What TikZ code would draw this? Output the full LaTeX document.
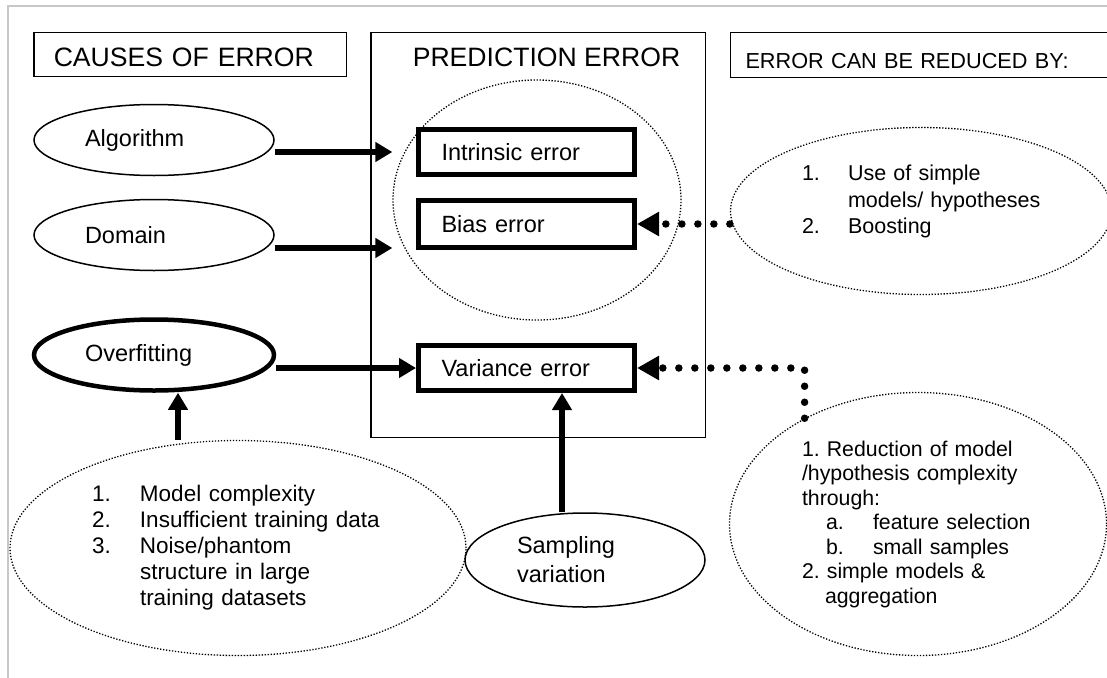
\documentclass[tikz,border=0pt]{standalone}
\usepackage{fontspec}
\setmainfont{Liberation Sans}
\usetikzlibrary{arrows.meta,positioning,shapes.geometric}
\definecolor{edge}{RGB}{200,200,200}
\newcommand{\fsz}[2]{\fontsize{#1}{#2}\selectfont}
\frenchspacing

\begin{document}
\begin{tikzpicture}[
      x=1pt,y=-1pt,
      lbl/.style={font=\fsz{23.5pt}{29pt}},
      headbox/.style={draw,line width=1.5pt,font=\fsz{26.6pt}{32pt},align=left,
                      text height=24pt,text depth=0pt},
      cause/.style={draw,ellipse,line width=1.5pt,minimum width=240pt,minimum height=71pt,
                    text width=138pt,align=left,inner sep=0pt,lbl},
      errbox/.style={draw,fill=white,line width=5pt,minimum height=45pt,text width=170pt,
                     inner xsep=23pt,align=left,lbl},
      dotell/.style={draw,ellipse,line width=1.3pt,dash pattern=on 1.3pt off 1.7pt,inner sep=0pt},
      bigarrow/.style={-{Triangle[length=17pt,width=19pt]},line width=6pt},
      dotarrow/.style={-{Triangle[length=22pt,width=23pt]},line width=7.5pt,line cap=round,
                       dash pattern=on 0pt off 16pt},
    ]
    \useasboundingbox (0,0) rectangle (1107,677);
    \draw[edge,line width=2pt] (8,700) -- (8,6) -- (1120,6);

    % three column heads
    \node[headbox,text width=272.5pt,inner xsep=20pt,minimum height=43.5pt] (causes)
      at (190,54.5) {CAUSES OF ERROR};
    \node[draw,line width=1.5pt,minimum width=334.5pt,minimum height=404.5pt] (predbox)
      at (538,235) {};
    \node[font=\fsz{26.6pt}{32pt},inner sep=0pt,below=16pt of predbox.north,xshift=8.5pt]
      (predtitle) {PREDICTION ERROR};
    \node[headbox,font=\fsz{21.7pt}{26pt},text height=27pt,anchor=west,text width=380pt,
          inner xsep=15pt,minimum height=44.5pt] (reducehead)
      at (729.75,55) {ERROR CAN BE REDUCED BY:};

    % causes
    \node[cause] (alg) at (154,140) {Algorithm};
    \node[cause] (dom) at (154,235) {Domain};
    \node[cause,line width=4.5pt] (over) at (154,355) {Overfitting};
    \node[dotell,minimum width=456pt,minimum height=215pt,text width=292pt,align=left,
          font=\fsz{22.5pt}{26pt}] (causelist) at (238,548)
      {\begin{tabular}{@{}p{48pt}@{}l@{}}
         1. & Model complexity\\
         2. & Insufficient training data\\
         3. & Noise/phantom\\
            & structure in large\\
            & training datasets
       \end{tabular}};
    \node[cause,minimum height=94pt,text width=136pt] (samp) at (585,560)
      {Sampling\\variation};

    % error parts
    \node[dotell,minimum width=288pt,minimum height=240pt] (errcirc) at (537,200) {};
    \node[errbox] (intr) at (526.5,152) {Intrinsic error};
    \node[errbox,minimum height=47pt] (bias) at (526.5,224) {Bias error};
    \node[errbox] (var) at (526.5,368) {Variance error};

    % remedies
    \node[dotell,minimum width=381pt,minimum height=167pt] (fix1) at (921,211) {};
    \node[text width=238pt,align=left,inner sep=0pt,font=\fsz{21.5pt}{26.5pt}] (fix1txt)
      at ([yshift=9pt]fix1.center)
      {\begin{tabular}{@{}p{46pt}@{}l@{}}
         1. & Use of simple\\
            & models/ hypotheses\\
         2. & Boosting
       \end{tabular}};
    \node[dotell,minimum width=377pt,minimum height=263pt,text width=232pt,align=left,
          font=\fsz{21.3pt}{24.5pt}] (fix2) at (918,524)
      {1. Reduction of model\\
       /hypothesis complexity\\
       through:\\
       \hspace*{24pt}\makebox[47pt][l]{a.}feature selection\\
       \hspace*{24pt}\makebox[47pt][l]{b.}small samples\\
       2. simple models \&\\
       \hspace*{23pt}aggregation};

    \coordinate (algout) at ([yshift=-12pt]alg.east);
    \coordinate (domout) at ([yshift=-13pt]dom.east);
    \draw[bigarrow] (algout) -- (algout -| errcirc.west);
    \draw[bigarrow] (domout) -- (domout -| errcirc.west);
    \draw[bigarrow] (over.east |- var) -- (var.west);
    \draw[bigarrow] ([xshift=-60pt]causelist.north) -- ([xshift=24pt]over.south);
    \draw[bigarrow] ([xshift=-23pt]samp.north) -- ([xshift=35.5pt]var.south);
    \draw[dotarrow] (fix1.west |- bias.east) -- (bias.east);
    \draw[dotarrow] (fix2.137) |- (var.east);
  \end{tikzpicture}
\end{document}
